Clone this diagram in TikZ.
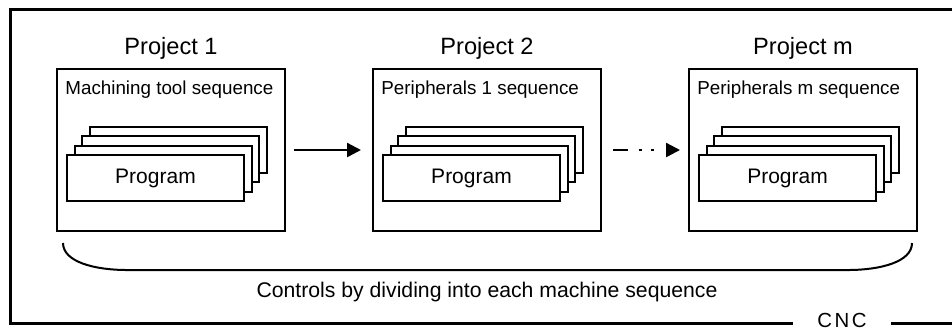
\documentclass[tikz,border=0pt]{standalone}
\usepackage{fontspec}
\setmainfont{Liberation Sans}
\newfontfamily\cncfont[LetterSpace=12]{Liberation Sans}
\usetikzlibrary{arrows.meta,positioning}

\tikzset{%
        project box/.style={
            draw,
            line width=1pt,
            minimum width=114pt,
            minimum height=81pt,
            inner sep=0pt
        },
        program sheet/.style={
            draw,
            fill=white,
            line width=1pt,
            minimum width=88.5pt,
            minimum height=23pt,
            inner sep=0pt,
            font=\fontsize{10.5}{12}\selectfont
        },
        project label/.style={
            anchor=base,
            font=\fontsize{11.8}{14}\selectfont
        },
        sequence label/.style={
            anchor=base west,
            inner sep=0pt,
            font=\fontsize{9.4}{11}\selectfont
        },
        flow/.style={
            -{Triangle[length=7pt,width=7pt]},
            line width=1.2pt
        },
    }

\begin{document}
\begin{tikzpicture}[x=0.5pt, y=-0.5pt]
        \useasboundingbox (0,0) rectangle (952,329);

        \foreach \i/\x/\s in {1/171/Machining tool sequence, 2/487/Peripherals 1 sequence, m/803/Peripherals m sequence} {
            \node [project box] (box-\i) at (\x,150) {};
            \node [project label] (project-\i) at (\x,54) {Project \i};
            \node [sequence label] (seq-\i) at ([xshift=4.5pt,yshift=-13pt]box-\i.north west) {\s};
            \foreach \k in {3,2,1}
                \node [program sheet] (sheet-\i-\k) at (\x-15.5+7.5*\k,178-9.5*\k) {};
            \node [program sheet] (program-\i) at (\x-15.5,178) {Program};
        }

        \draw [flow, shorten <=4pt, shorten >=5.5pt] (box-1.east) -- (box-2.west);
        \draw [flow, dash pattern=on 7.5pt off 5.5pt on 1.5pt off 4.5pt on 1.5pt off 20pt,
            shorten <=5.5pt, shorten >=4pt] (box-2.east) -- (box-m.west);

        % bracket under the projects
        \draw [line width=1pt] (63,243) .. controls (63,262) and (95,270) .. (127,270)
            -- (848,270) .. controls (880,270) and (912,262) .. (912,243);
        \node [anchor=base, font=\fontsize{10.6}{13}\selectfont] (caption) at (487,297)
            {Controls by dividing into each machine sequence};

        % CNC frame
        \coordinate (frame-nw) at (10,9);
        \coordinate (frame-ne) at (952,9);
        \coordinate (frame-sw) at (10,323);
        \coordinate (frame-se) at (952,323);
        \node [anchor=base, inner xsep=12pt, inner ysep=0pt, font=\cncfont\fontsize{10.2}{12}\selectfont] (cnc) at (842,327) {CNC};
        \draw [line width=1.5pt] (cnc.west |- frame-sw) -- (frame-sw) -- (frame-nw) -- (frame-ne);
        \draw [line width=1.5pt] (cnc.east |- frame-se) -- (frame-se);
    \end{tikzpicture}
\end{document}
